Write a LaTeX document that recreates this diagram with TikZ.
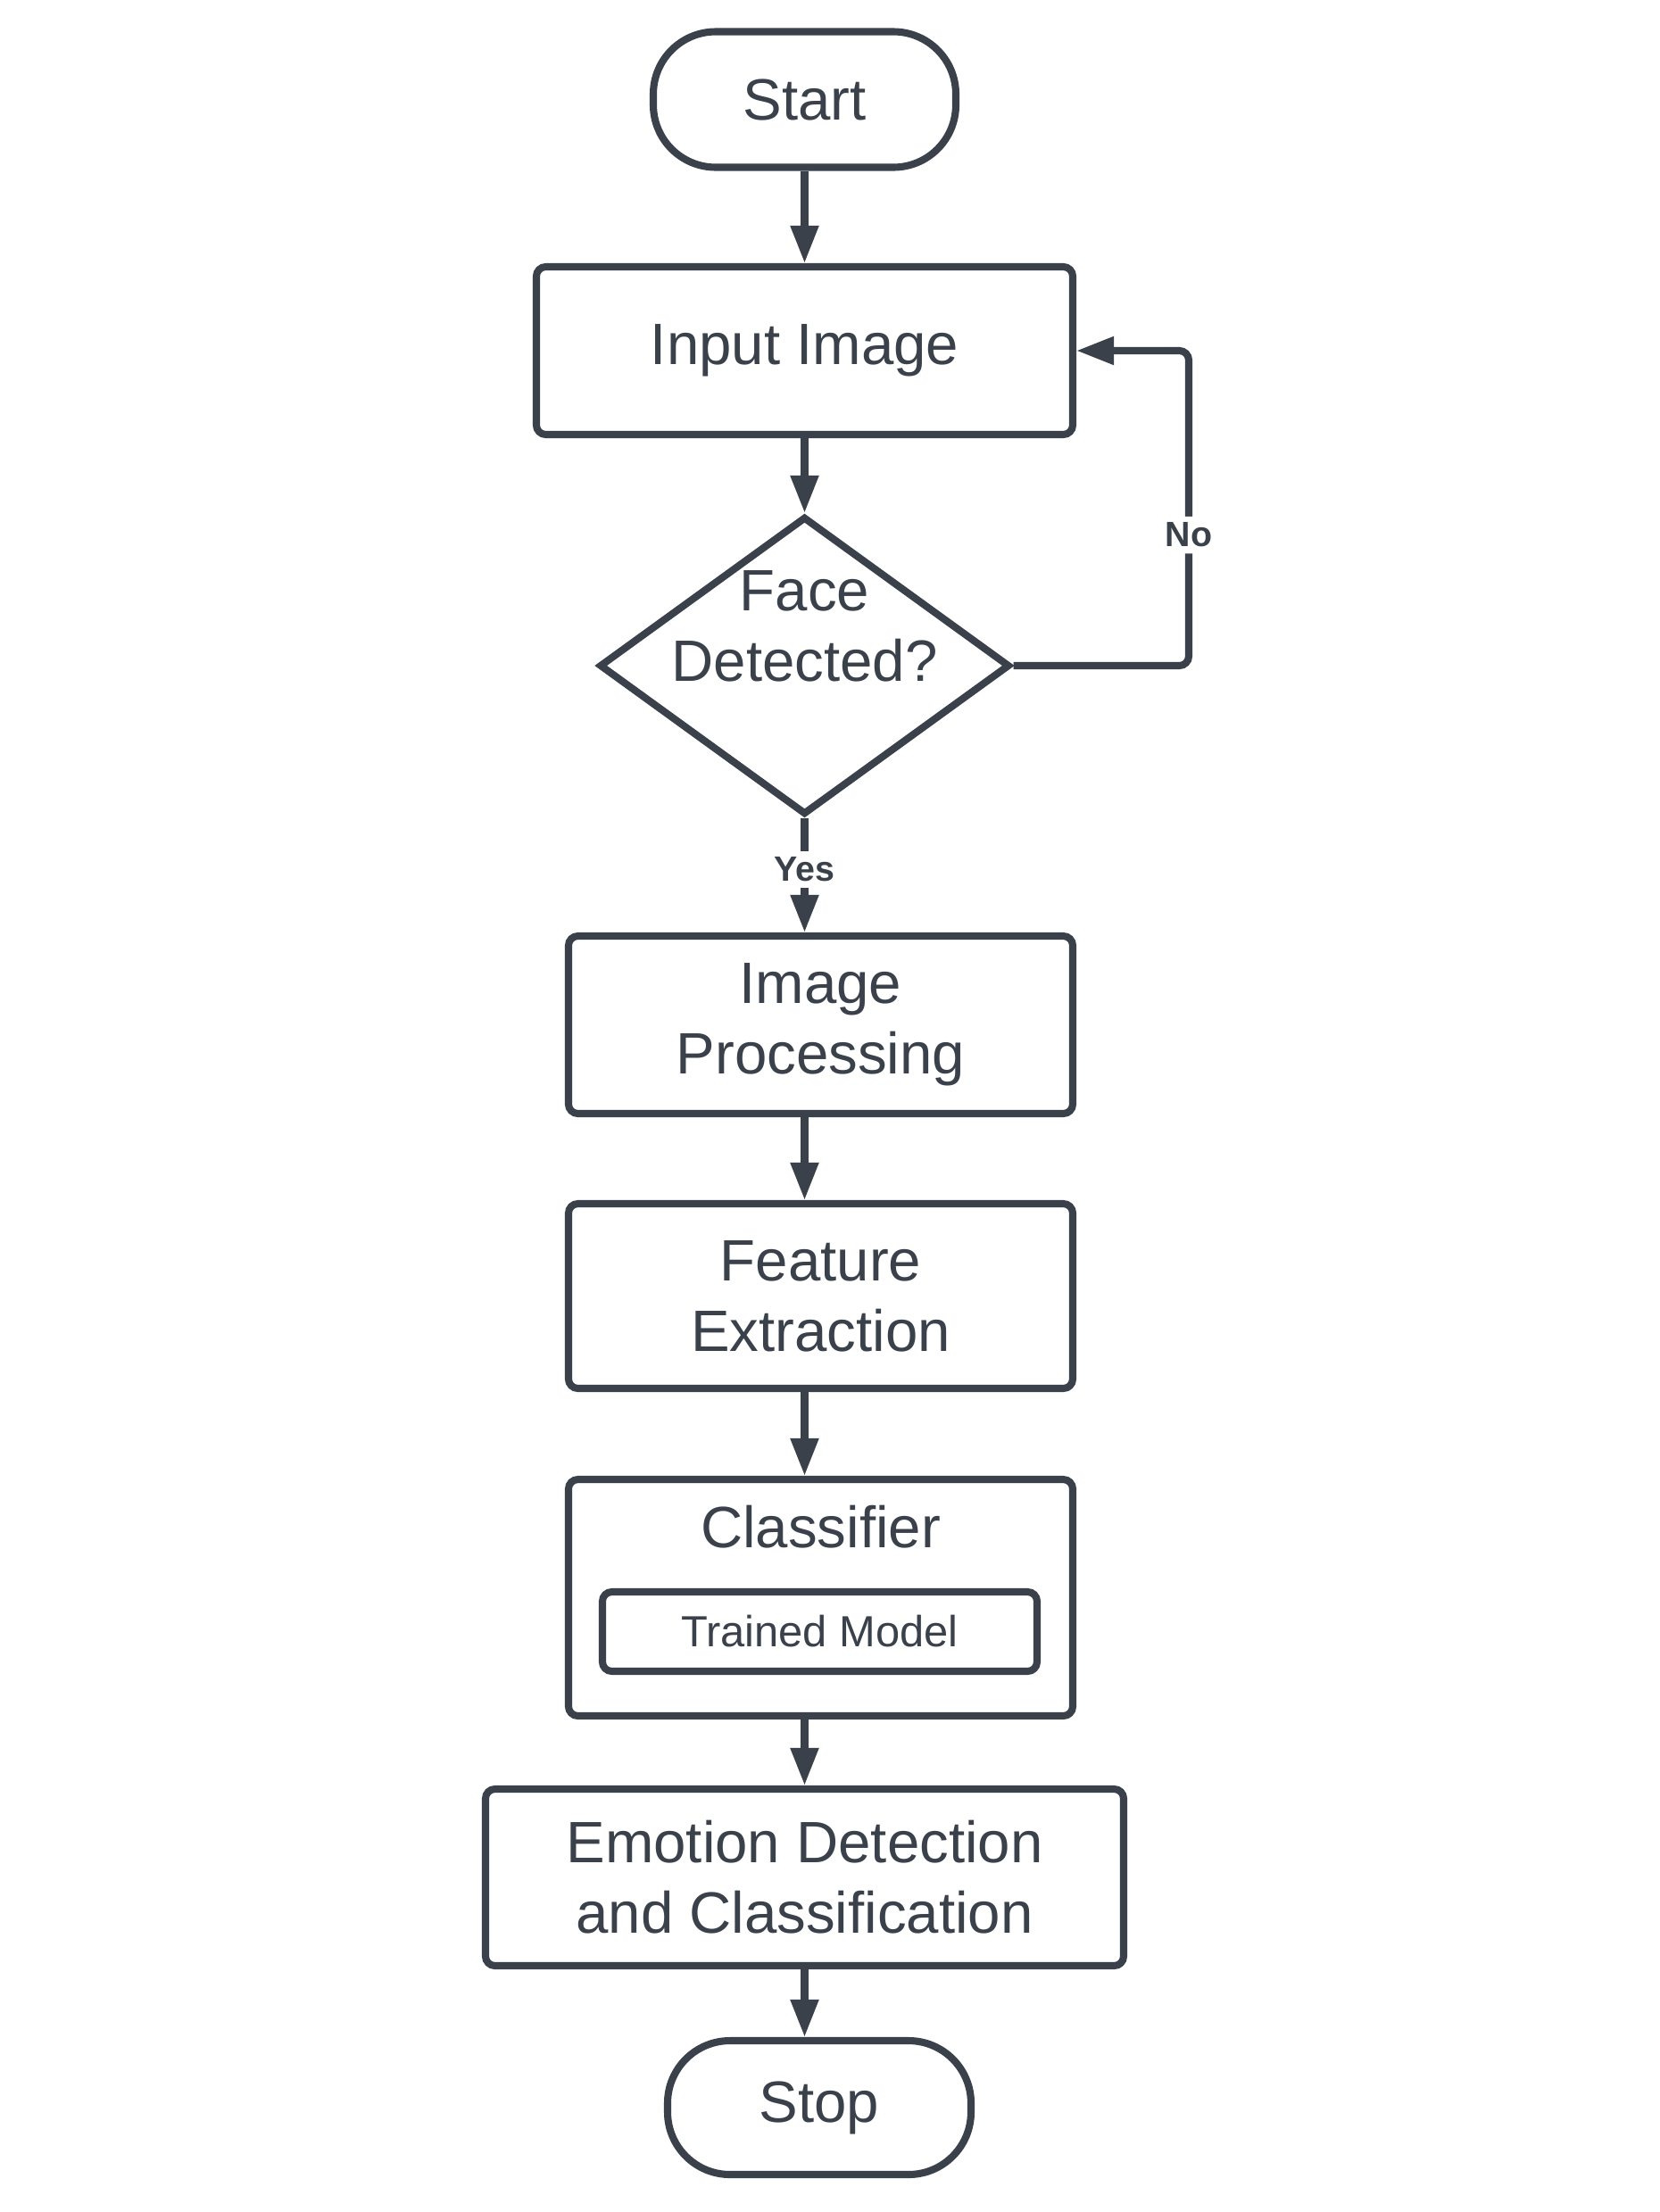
\documentclass[tikz,border=0pt]{standalone}
\usepackage{fontspec}
\setmainfont{Liberation Sans}
\usepackage{xcolor}
\usepackage{tikz}
\usetikzlibrary{arrows.meta,shapes.geometric}

\definecolor{ink}{HTML}{3A414B}

\begin{document}
\begin{tikzpicture}[line width=2.3pt,
  box/.style={draw=ink,text=ink,rectangle,rounded corners=3pt,inner sep=0pt,align=center,
    font=\fontsize{18.6}{22.5}\selectfont},
  term/.style={box,rounded corners=0.7cm,minimum width=3.39cm,minimum height=1.52cm},
  flow/.style={ink,-{Triangle[length=0.42cm,width=0.3cm]}},
  lbl/.style={text=ink,fill=white,inner sep=2pt,font=\bfseries\fontsize{11.2}{13}\selectfont}]
\useasboundingbox (0,0) rectangle (18.6,-24.79);

% main column of steps
\node[term] (start) at (9.015,-1.115) {Start};
\node[box,minimum width=6.01cm,minimum height=1.88cm] (input) at (9.015,-3.93) {Input Image};
\node[draw=ink,diamond,inner sep=0pt,minimum width=4.6cm,minimum height=3.34cm] (dec) at (9.015,-7.46) {};
\node[text=ink,align=center,font=\fontsize{18.6}{22.5}\selectfont] (dectext) at (9.015,-7.02) {Face\\Detected?};
\node[box,minimum width=5.65cm,minimum height=1.99cm] (proc) at (9.195,-11.485) {Image\\Processing};
\node[box,minimum width=5.65cm,minimum height=2.07cm] (feat) at (9.195,-14.525) {Feature\\Extraction};
\node[box,minimum width=5.65cm,minimum height=2.65cm] (cls) at (9.195,-17.905) {};
\node[text=ink,font=\fontsize{18.6}{22.5}\selectfont] (clstext) at (9.195,-17.11) {Classifier};
\node[box,minimum width=4.87cm,minimum height=0.89cm,font=\fontsize{13.9}{16}\selectfont] (model) at (9.185,-18.285) {Trained Model};
\node[box,minimum width=7.15cm,minimum height=1.98cm] (emo) at (9.015,-21.04) {Emotion Detection\\and Classification};
\node[term,minimum width=3.4cm,minimum height=1.5cm] (stop) at (9.18,-23.62) {Stop};

% connectors
\draw[flow] (start.south) -- (input.north);
\draw[flow] (input.south) -- (dec.north);
\draw[flow] (dec.south) -- node[lbl,pos=0.45] (yes) {Yes} (dec.south |- proc.north);
\draw[flow] (dec.south |- proc.south) -- (dec.south |- feat.north);
\draw[flow] (dec.south |- feat.south) -- (dec.south |- cls.north);
\draw[flow] (dec.south |- cls.south) -- (emo.north);
\draw[flow] (emo.south) -- (emo.south |- stop.north);

% loop back when no face
\coordinate (loopb) at (13.32,-7.46);
\coordinate (loopt) at (13.32,-3.93);
\draw[flow,rounded corners=3pt] (dec.east) -- (loopb) -- node[lbl,pos=0.415] (no) {No} (loopt) -- (input.east);
\end{tikzpicture}
\end{document}
